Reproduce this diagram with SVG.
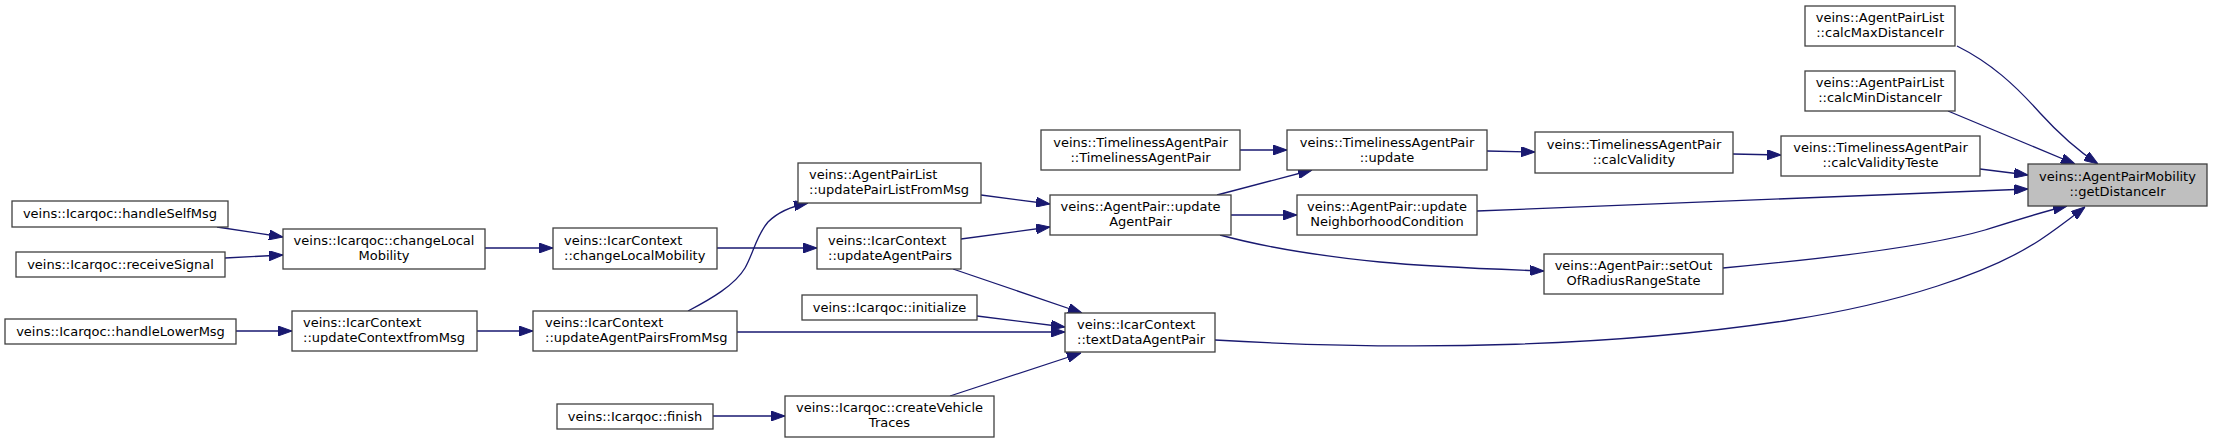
<svg xmlns="http://www.w3.org/2000/svg" width="2213" height="443" viewBox="0 0 2213 443">
<style>
.node rect{fill:#ffffff;stroke:#404040;stroke-width:1.3}
.node.root rect{fill:#bfbfbf}
.node text{font-family:"DejaVu Sans","Liberation Sans",sans-serif;font-size:13px;fill:#000000}
.c{text-anchor:middle}
.l{text-anchor:start}
.edges path{fill:none;stroke:#191970;stroke-width:1.3;marker-end:url(#ah)}
</style>
<defs>
<marker id="ah" viewBox="0 0 14 10" refX="14" refY="5" markerWidth="14" markerHeight="10" markerUnits="userSpaceOnUse" orient="auto">
<path d="M0,0 L14,5 L0,10 z" fill="#191970" stroke="#191970" stroke-width="1"/>
</marker>
</defs>
<rect width="2213" height="443" fill="#ffffff"/>
<g class="edges">
<path d="M217,227 L283,237"/>
<path d="M225,258 L283,255"/>
<path d="M485,248 L553,248"/>
<path d="M236,331 L292,331"/>
<path d="M477,331 L533,331"/>
<path d="M717,248 L817,248"/>
<path d="M688,311 C711,299 735,285 745,268 C754,252 756,236 768,222 C779,211 793,206 808,203"/>
<path d="M981,195 L1050,204"/>
<path d="M961,239 L1050,227"/>
<path d="M953,269 L1082,313"/>
<path d="M977,316 L1065,327"/>
<path d="M737,332 L1065,332"/>
<path d="M713,416 L785,416"/>
<path d="M950,396 L1081,353"/>
<path d="M1240,150 L1287,150"/>
<path d="M1217,195 L1312,170"/>
<path d="M1231,215 L1297,215"/>
<path d="M1220,235 C1264,247 1320,256 1380,262 C1430,267 1490,269 1544,271"/>
<path d="M1487,151 L1535,152"/>
<path d="M1733,154 L1781,155"/>
<path d="M1957,46 C1991,63 2015,85 2040,113 C2060,135 2080,152 2098,164"/>
<path d="M1948,111 L2075,164"/>
<path d="M1980,169 L2028,175"/>
<path d="M1477,211 L2028,189"/>
<path d="M1723,268 C1800,261 1920,249 1985,230 C2020,219 2045,211 2067,206"/>
<path d="M1215,340 C1420,352 1620,346 1790,320 C1900,303 1990,273 2040,240 C2058,228 2072,217 2085,207"/>
</g>
<g id="n_handleSelfMsg" class="node"><rect x="12" y="201" width="216" height="26"/><text class="c" x="120" y="218">veins::Icarqoc::handleSelfMsg</text></g>
<g id="n_receiveSignal" class="node"><rect x="16" y="252" width="209" height="25"/><text class="c" x="120.5" y="268.5">veins::Icarqoc::receiveSignal</text></g>
<g id="n_handleLowerMsg" class="node"><rect x="5" y="319" width="231" height="25"/><text class="c" x="120.5" y="335.5">veins::Icarqoc::handleLowerMsg</text></g>
<g id="n_icarqoc_changeLocalMobility" class="node"><rect x="283" y="229" width="202" height="40"/><text class="c" x="384" y="245">veins::Icarqoc::changeLocal</text><text class="c" x="384" y="260">Mobility</text></g>
<g id="n_updateContextfromMsg" class="node"><rect x="292" y="311" width="185" height="40"/><text class="l" x="303" y="327">veins::IcarContext</text><text class="l" x="303" y="342">::updateContextfromMsg</text></g>
<g id="n_ctx_changeLocalMobility" class="node"><rect x="553" y="228" width="164" height="41"/><text class="l" x="564" y="245">veins::IcarContext</text><text class="l" x="564" y="260">::changeLocalMobility</text></g>
<g id="n_updateAgentPairsFromMsg" class="node"><rect x="533" y="311" width="204" height="40"/><text class="l" x="545" y="327">veins::IcarContext</text><text class="l" x="545" y="342">::updateAgentPairsFromMsg</text></g>
<g id="n_finish" class="node"><rect x="557" y="404" width="156" height="25"/><text class="c" x="635" y="420.5">veins::Icarqoc::finish</text></g>
<g id="n_updatePairListFromMsg" class="node"><rect x="798" y="163" width="183" height="40"/><text class="l" x="809" y="179">veins::AgentPairList</text><text class="l" x="809" y="194">::updatePairListFromMsg</text></g>
<g id="n_updateAgentPairs" class="node"><rect x="817" y="228" width="144" height="41"/><text class="l" x="828" y="245">veins::IcarContext</text><text class="l" x="828" y="260">::updateAgentPairs</text></g>
<g id="n_initialize" class="node"><rect x="802" y="295" width="175" height="25"/><text class="c" x="889.5" y="311.5">veins::Icarqoc::initialize</text></g>
<g id="n_createVehicleTraces" class="node"><rect x="785" y="396" width="209" height="41"/><text class="c" x="889.5" y="412">veins::Icarqoc::createVehicle</text><text class="c" x="889.5" y="427">Traces</text></g>
<g id="n_TAP_ctor" class="node"><rect x="1041" y="130" width="199" height="40"/><text class="c" x="1140.5" y="146.5">veins::TimelinessAgentPair</text><text class="c" x="1140.5" y="161.5">::TimelinessAgentPair</text></g>
<g id="n_updateAgentPair" class="node"><rect x="1050" y="195" width="181" height="40"/><text class="c" x="1140.5" y="211">veins::AgentPair::update</text><text class="c" x="1140.5" y="226">AgentPair</text></g>
<g id="n_textDataAgentPair" class="node"><rect x="1065" y="313" width="150" height="39"/><text class="l" x="1077" y="329">veins::IcarContext</text><text class="l" x="1077" y="344">::textDataAgentPair</text></g>
<g id="n_TAP_update" class="node"><rect x="1287" y="130" width="200" height="40"/><text class="c" x="1387" y="146.5">veins::TimelinessAgentPair</text><text class="c" x="1387" y="161.5">::update</text></g>
<g id="n_updateNeighborhoodCondition" class="node"><rect x="1297" y="195" width="180" height="40"/><text class="c" x="1387" y="211">veins::AgentPair::update</text><text class="c" x="1387" y="226">NeighborhoodCondition</text></g>
<g id="n_calcValidity" class="node"><rect x="1535" y="132" width="198" height="41"/><text class="c" x="1634" y="148.5">veins::TimelinessAgentPair</text><text class="c" x="1634" y="163.5">::calcValidity</text></g>
<g id="n_setOutOfRadiusRangeState" class="node"><rect x="1544" y="254" width="179" height="40"/><text class="c" x="1633.5" y="270">veins::AgentPair::setOut</text><text class="c" x="1633.5" y="285">OfRadiusRangeState</text></g>
<g id="n_calcMaxDistanceIr" class="node"><rect x="1805" y="6" width="150" height="40"/><text class="c" x="1880" y="22">veins::AgentPairList</text><text class="c" x="1880" y="37">::calcMaxDistanceIr</text></g>
<g id="n_calcMinDistanceIr" class="node"><rect x="1805" y="71" width="150" height="40"/><text class="c" x="1880" y="87">veins::AgentPairList</text><text class="c" x="1880" y="102">::calcMinDistanceIr</text></g>
<g id="n_calcValidityTeste" class="node"><rect x="1781" y="136" width="199" height="40"/><text class="c" x="1880.5" y="152">veins::TimelinessAgentPair</text><text class="c" x="1880.5" y="167">::calcValidityTeste</text></g>
<g id="n_getDistanceIr" class="node root"><rect x="2028" y="164" width="179" height="42"/><text class="c" x="2117.5" y="181">veins::AgentPairMobility</text><text class="c" x="2117.5" y="196">::getDistanceIr</text></g>
</svg>
